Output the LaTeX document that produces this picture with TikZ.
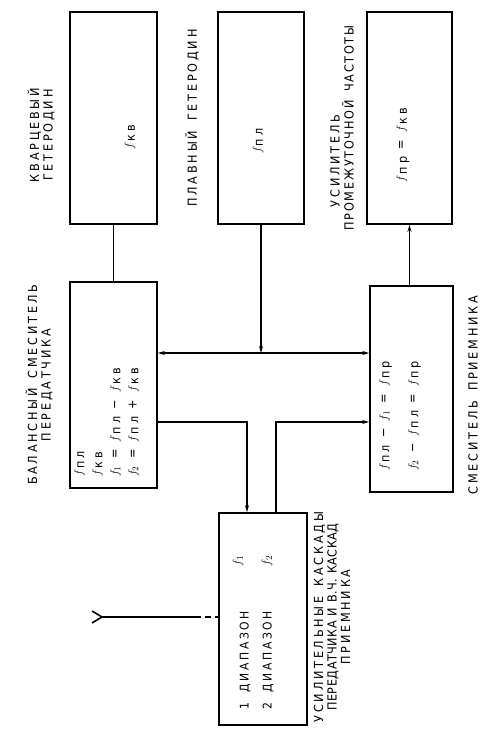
\documentclass[tikz,border=0pt]{standalone}
\usepackage{fontspec}
\newfontfamily\lab{DejaVu Sans}[LetterSpace=22,FakeStretch=0.9,WordSpace=1.6]
\newfontfamily\labm{DejaVu Sans}[LetterSpace=14,FakeStretch=0.9,WordSpace=1.6]
\newfontfamily\labn{DejaVu Sans}[LetterSpace=4,FakeStretch=0.9,WordSpace=1.2]
\newfontfamily\labi{DejaVu Sans}[LetterSpace=28,FakeStretch=0.9]
\usetikzlibrary{arrows.meta}
\newcommand\F[1]{$f$\kern0.8pt\raisebox{-1.8pt}{#1}}
\begin{document}
\begin{tikzpicture}[x=1pt,y=-1pt,
  box/.style={draw, line width=1.6pt, inner sep=0pt, rectangle},
  lbl/.style={rotate=90, font=\lab\fontsize{12.5}{13.5}\selectfont, inner sep=0pt, align=center},
  mt/.style={rotate=90, font=\labi\fontsize{12.5}{18}\selectfont, inner sep=0pt},
  ln/.style={line width=1.6pt},
  arr/.style={-{Stealth[length=7pt,width=4pt]}},
  darr/.style={{Stealth[length=7pt,width=4pt]}-{Stealth[length=7pt,width=4pt]}}]
\useasboundingbox (0,0) rectangle (485,734);
% boxes
\node[box, minimum width=87pt, minimum height=212pt] (b1) at (113.5,118) {};
\node[box, minimum width=86pt, minimum height=212pt] (b2) at (261,118) {};
\node[box, minimum width=85pt, minimum height=212pt] (b3) at (409.5,118) {};
\node[box, minimum width=87pt, minimum height=206pt] (b4) at (113.5,385) {};
\node[box, minimum width=83pt, minimum height=206pt] (b5) at (411.5,389) {};
\node[box, minimum width=88pt, minimum height=212pt] (b6) at (263,619) {};
% connectors
\coordinate (j) at (261,353);
\coordinate (c1) at (247,422);
\coordinate (c2) at (276,422);
\coordinate (ant) at (102,617);
\coordinate (ad) at (195,617);
\draw[ln] (b1.south) -- (b4.north);
\draw[ln, arr] (b2.south) -- (j);
\draw[ln, darr] (b4.east |- j) -- (b5.west |- j);
\draw[ln, arr] (b4.east |- c1) -- (c1) -- (c1 |- b6.north);
\draw[ln, arr] (c2 |- b6.north) -- (c2) -- (b5.west |- c2);
\draw[ln, arr] (b5.north -| b3.south) -- (b3.south);
\draw[ln] (92,611) -- (ant) -- (92,623);
\draw[ln] (ant) -- (ad);
\draw[ln, dash pattern=on 6pt off 4pt] (ad) -- (b6.west |- ant);
% labels
\node[lbl] (t1) at (41,135) {КВАРЦЕВЫЙ\\ГЕТЕРОДИН};
\node[lbl] (t2) at (192,118) {ПЛАВНЫЙ ГЕТЕРОДИН};
\node[lbl] (t3a) at (335,161) {УСИЛИТЕЛЬ};
\node[lbl] (t3b) at (348,128) {{\labm ПРОМЕЖУТОЧНОЙ ЧАСТОТЫ}};
\node[lbl] (t4) at (39,385) {БАЛАНСНЫЙ СМЕСИТЕЛЬ\\ПЕРЕДАТЧИКА};
\node[lbl] (t5) at (473,395) {СМЕСИТЕЛЬ ПРИЕМНИКА};
\node[lbl] (t6) at (332,617) {УСИЛИТЕЛЬНЫЕ КАСКАДЫ\\{\labn ПЕРЕДАТЧИКА И В.Ч. КАСКАД}\\ПРИЕМНИКА};
% inside texts
\node[mt] (m1) at (130,137) {\F{кв}};
\node[mt] (m2) at (258,141) {\F{пл}};
\node[mt] (m3) at (403,145) {\F{пр} = \F{кв}};
\node[mt, anchor=north west, align=left] (m4) at (74,477) {\F{пл}\\\F{кв}\\$f_1$ = \F{пл} − \F{кв}\\$f_2$ = \F{пл} + \F{кв}};
\node[mt, anchor=north west, align=left, font=\labi\fontsize{12.5}{29}\selectfont] (m5) at (379,471) {\F{пл} − $f_1$ = \F{пр}\\$f_2$ − \F{пл} = \F{пр}};
\node[mt] (m6a) at (238,561) {$f_1$};
\node[mt] (m6b) at (267,561) {$f_2$};
\node[mt, font=\lab\fontsize{12}{13}\selectfont] (m6c) at (245,660) {1 ДИАПАЗОН};
\node[mt, font=\lab\fontsize{12}{13}\selectfont] (m6d) at (268,660) {2 ДИАПАЗОН};
\end{tikzpicture}
\end{document}
